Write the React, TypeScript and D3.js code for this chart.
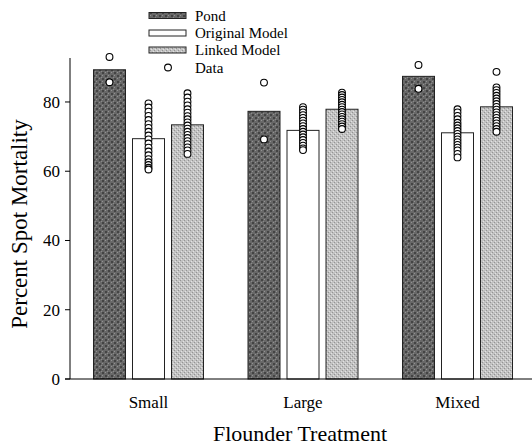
import React from "react";
import * as d3 from "d3";

const categories = ["Small", "Large", "Mixed"];
const seriesNames = ["Pond", "Original Model", "Linked Model"];
const pondValues = [89.3, 77.3, 87.4];
const originalValues = [69.4, 71.8, 71.1];
const linkedValues = [73.4, 77.9, 78.6];
const yTicks = [0, 20, 40, 60, 80];

const pondData = [
  [93.0, 85.7],
  [85.6, 69.2],
  [90.7, 83.8],
];
const originalData = [
  [79.6, 78.4, 77.2, 76.0, 74.8, 73.6, 72.5, 71.4, 70.3, 69.2, 68.0, 66.8, 65.7, 64.6, 63.5, 62.6, 61.8, 61.0, 60.5],
  [78.5, 77.8, 77.0, 76.2, 75.4, 74.6, 73.8, 73.0, 72.2, 71.4, 70.6, 69.8, 69.0, 68.2, 67.4, 66.6, 66.1],
  [77.9, 77.0, 76.0, 75.0, 74.0, 73.2, 72.4, 71.6, 70.8, 70.0, 69.2, 68.4, 67.6, 66.8, 66.0, 65.0, 64.0],
];
const linkedData = [
  [82.5, 81.3, 80.1, 79.0, 77.9, 76.9, 75.9, 75.0, 74.1, 73.2, 72.3, 71.4, 70.5, 69.6, 68.7, 67.8, 66.9, 66.0, 65.0],
  [82.7, 82.0, 81.3, 80.6, 79.9, 79.2, 78.5, 77.8, 77.1, 76.4, 75.7, 75.0, 74.3, 73.6, 72.9, 72.2],
  [88.7, 84.2, 83.4, 82.6, 81.8, 81.0, 80.2, 79.4, 78.6, 77.8, 77.0, 76.2, 75.4, 74.6, 73.8, 73.0, 72.2, 71.4],
];

const W = 532;
const H = 446;
const FONT = "'Liberation Serif', 'DejaVu Serif', serif";

export default function App() {
  const y = d3.scaleLinear().domain([0, 92.7]).range([379, 58]);
  const x0 = d3.scaleBand().domain(categories).range([71.25, 534.75]).padding(0);
  const x1 = d3
    .scaleBand()
    .domain(seriesNames)
    .range([-55, 55])
    .paddingInner(7 / 39)
    .paddingOuter(0);
  const bw = x1.bandwidth();
  const fills = ["url(#pondPat)", "#ffffff", "url(#linkPat)"];
  const valuesBySeries = [pondValues, originalValues, linkedValues];
  const dataBySeries = [pondData, originalData, linkedData];

  const legendY = [15.5, 33, 50];

  return (
    <svg width={W} height={H} style={{ position: "absolute", left: 0, top: 0, background: "#fff" }}>
      <defs>
        <pattern id="pondPat" width="6" height="6" patternUnits="userSpaceOnUse">
          <rect width="6" height="6" fill="#686868" />
          <rect x="0" y="0" width="2" height="2" fill="#444" />
          <rect x="3" y="3" width="2" height="2" fill="#444" />
          <rect x="3" y="0" width="1" height="1" fill="#929292" />
          <rect x="0" y="3" width="1" height="1" fill="#929292" />
          <rect x="5" y="5" width="1" height="1" fill="#888" />
        </pattern>
        <pattern id="linkPat" width="4" height="4" patternUnits="userSpaceOnUse">
          <rect width="4" height="4" fill="#c2c2c2" />
          <rect x="0" y="0" width="1" height="1" fill="#949494" />
          <rect x="2" y="2" width="1" height="1" fill="#949494" />
          <rect x="1" y="3" width="1" height="1" fill="#e2e2e2" />
          <rect x="3" y="1" width="1" height="1" fill="#e2e2e2" />
        </pattern>
      </defs>

      {/* bars */}
      {categories.map((c, ci) =>
        seriesNames.map((s, si) => {
          const v = valuesBySeries[si][ci];
          const bx = (x0(c) as number) + x0.bandwidth() / 2 + (x1(s) as number);
          return (
            <rect
              key={c + s}
              x={bx}
              y={y(v)}
              width={bw}
              height={y(0) - y(v)}
              fill={fills[si]}
              stroke="#222"
              strokeWidth={1}
            />
          );
        })
      )}

      {/* data circles */}
      {categories.map((c, ci) =>
        seriesNames.map((s, si) => {
          const cx = (x0(c) as number) + x0.bandwidth() / 2 + (x1(s) as number) + bw / 2;
          return dataBySeries[si][ci].map((d, di) => (
            <circle
              key={c + s + di}
              cx={cx}
              cy={y(d)}
              r={3.4}
              fill="#fff"
              stroke="#000"
              strokeWidth={1.1}
            />
          ));
        })
      )}

      {/* axes */}
      <line x1={70} x2={70} y1={y(92.7)} y2={y(0)} stroke="#000" strokeWidth={1} />
      <line x1={65} x2={532} y1={y(0)} y2={y(0)} stroke="#000" strokeWidth={1} />
      {yTicks.map((t) => (
        <g key={t}>
          <line x1={65} x2={70} y1={y(t)} y2={y(t)} stroke="#000" strokeWidth={1} />
          <text
            x={60}
            y={y(t)}
            dy="0.35em"
            textAnchor="end"
            fontFamily={FONT}
            fontSize={17}
            fill="#000"
          >
            {t}
          </text>
        </g>
      ))}
      {categories.map((c) => (
        <text
          key={c}
          x={(x0(c) as number) + x0.bandwidth() / 2}
          y={408}
          textAnchor="middle"
          fontFamily={FONT}
          fontSize={17}
          fill="#000"
        >
          {c}
        </text>
      ))}

      <text
        x={300}
        y={441}
        textAnchor="middle"
        fontFamily={FONT}
        fontSize={22}
        fill="#000"
      >
        Flounder Treatment
      </text>
      <text
        transform="translate(27,224) rotate(-90)"
        textAnchor="middle"
        fontFamily={FONT}
        fontSize={23}
        fill="#000"
      >
        Percent Spot Mortality
      </text>

      {/* legend */}
      {seriesNames.map((s, si) => (
        <g key={s}>
          <rect
            x={149}
            y={legendY[si] - 3}
            width={37}
            height={6}
            fill={fills[si]}
            stroke="#222"
            strokeWidth={1}
          />
          <text
            x={195}
            y={legendY[si]}
            dy="0.35em"
            fontFamily={FONT}
            fontSize={15}
            fill="#000"
          >
            {s}
          </text>
        </g>
      ))}
      <circle cx={168} cy={67.5} r={3.4} fill="#fff" stroke="#000" strokeWidth={1.1} />
      <text x={195} y={67.5} dy="0.35em" fontFamily={FONT} fontSize={15} fill="#000">
        Data
      </text>
    </svg>
  );
}
